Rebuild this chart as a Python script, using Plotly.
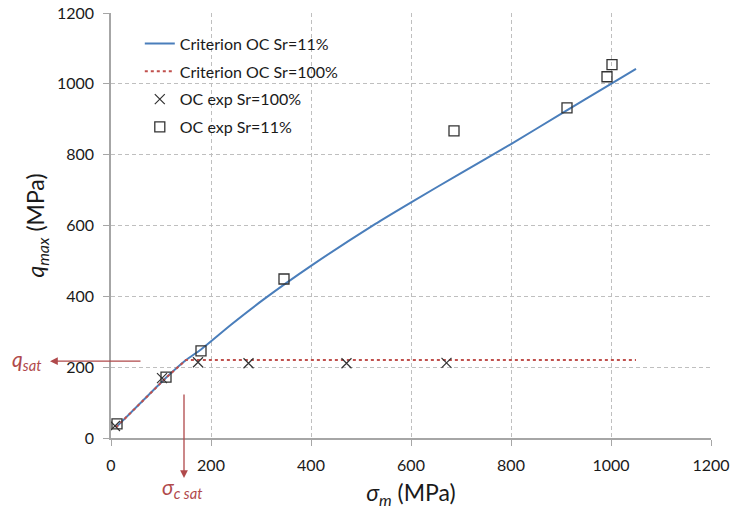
import plotly.graph_objects as go

# Criterion curves
crit11_x = [10, 60, 110, 150, 180, 240, 304, 400, 528, 602, 700, 800, 900, 1000, 1050]
crit11_y = [30, 100, 170, 220, 250, 320, 390, 486, 604, 667, 748, 830, 915, 1000, 1042]
crit100_x = [10, 60, 110, 150, 1050]
crit100_y = [30, 100, 170, 220, 220]

# Experimental points
exp100_x = [8, 102, 174, 275, 471, 671]
exp100_y = [34, 169, 214, 211, 211, 212]
exp11_x = [12, 110, 180, 346, 686, 912, 992, 1002]
exp11_y = [40, 172, 246, 449, 867, 932, 1020, 1054]

x_ticks = [0, 200, 400, 600, 800, 1000, 1200]
y_ticks = [0, 200, 400, 600, 800, 1000, 1200]

blue = "#4A7EBB"
red = "#C0504D"
annot = "#B0494B"
font = "Lato"

fig = go.Figure()
fig.add_trace(go.Scatter(x=crit11_x, y=crit11_y, mode="lines", name="Criterion OC Sr=11%",
                         line=dict(color=blue, width=2, shape="spline", smoothing=0.6),
                         legendgroup="a"))
fig.add_trace(go.Scatter(x=crit100_x, y=crit100_y, mode="lines", name="Criterion OC Sr=100%",
                         line=dict(color=red, width=2, dash="dot"), legendgroup="b"))
fig.add_trace(go.Scatter(x=exp100_x, y=exp100_y, mode="markers", name="OC exp Sr=100%",
                         marker=dict(symbol="x-thin-open", size=10, color="#333333",
                                     line=dict(width=1.2, color="#333333")), legendgroup="c"))
fig.add_trace(go.Scatter(x=exp11_x, y=exp11_y, mode="markers", name="OC exp Sr=11%",
                         marker=dict(symbol="square-open", size=10, color="#333333",
                                     line=dict(width=1.3, color="#333333")), legendgroup="d"))

axis_common = dict(
    range=[0, 1200], showgrid=True, gridcolor="#BFBFBF", griddash="4px,3px", gridwidth=1,
    zeroline=False, showline=True, linecolor="#A6A6A6", linewidth=1.5,
    ticks="outside", ticklen=6, tickcolor="#A6A6A6", ticklabelstandoff=6,
    tickfont=dict(family=font, size=16, color="#1a1a1a"), automargin=False,
)

fig.update_xaxes(**axis_common, tickvals=x_ticks, ticktext=[str(v) for v in x_ticks],
                 title=dict(text="<i>σ</i><sub><i>m</i></sub> (MPa)",
                            font=dict(family=font, size=23, color="#1a1a1a"), standoff=12))
fig.update_yaxes(**axis_common, tickvals=y_ticks, ticktext=[str(v) for v in y_ticks],
                 title=dict(text="<i>q</i><sub><i>max</i></sub> (MPa)",
                            font=dict(family=font, size=23, color="#1a1a1a"), standoff=6))

# q_sat arrow and label
fig.add_annotation(x=-122, y=217, ax=62, ay=217, xref="x", yref="y", axref="x", ayref="y",
                   text="", showarrow=True, arrowhead=2, arrowsize=1.2, arrowwidth=1.3,
                   arrowcolor=annot)
fig.add_annotation(x=-0.168, y=0.145, xref="paper", yref="paper", showarrow=False,
                   text="<i>q</i><sub><i>sat</i></sub>",
                   font=dict(family=font, size=21, color=annot))
# sigma_c sat arrow and label
fig.add_annotation(x=146, y=-113, ax=146, ay=127, xref="x", yref="y", axref="x", ayref="y",
                   text="", showarrow=True, arrowhead=2, arrowsize=1.2, arrowwidth=1.3,
                   arrowcolor=annot)
fig.add_annotation(x=0.081, y=-0.155, xref="paper", yref="paper", showarrow=False,
                   text="<i>σ</i><sub><i>c sat</i></sub>",
                   font=dict(family=font, size=21, color=annot))

fig.update_layout(
    width=734, height=512,
    margin=dict(l=111, r=23, t=13, b=74),
    paper_bgcolor="white", plot_bgcolor="white",
    legend=dict(x=0.048, y=0.968, xanchor="left", yanchor="top",
                font=dict(family=font, size=16, color="#1a1a1a"),
                bgcolor="rgba(255,255,255,0)", traceorder="grouped", tracegroupgap=4,
                itemwidth=30),
    showlegend=True,
)

fig.write_html("out.html")
